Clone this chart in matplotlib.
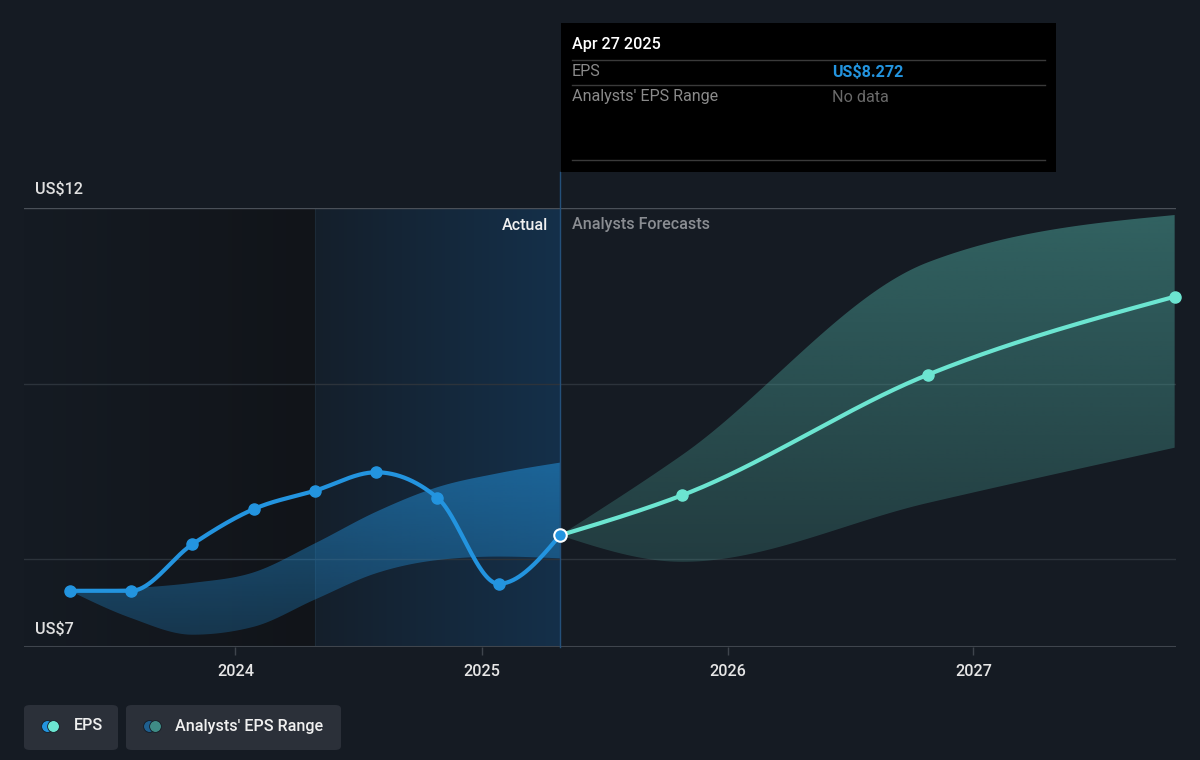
import numpy as np
import matplotlib
matplotlib.use("Agg")
import matplotlib.pyplot as plt
import matplotlib.dates as mdates
from matplotlib.patches import Rectangle, FancyBboxPatch
from matplotlib.lines import Line2D
import datetime as dt

plt.rcParams['font.family'] = ['Roboto', 'DejaVu Sans']

# ---------------- data ----------------
hist_dates = ["2023-04-30", "2023-07-30", "2023-10-29", "2024-01-28", "2024-04-28",
              "2024-07-28", "2024-10-27", "2025-01-26", "2025-04-27"]
hist_eps = [7.64, 7.64, 8.17, 8.57, 8.78, 8.99, 8.70, 7.72, 8.272]
hist_range_high = [7.64, 7.67, 7.73, 7.85, 8.18, 8.54, 8.82, 8.98, 9.10]
hist_range_low = [7.64, 7.33, 7.14, 7.23, 7.54, 7.84, 7.99, 8.03, 8.01]

fc_dates = ["2025-04-27", "2025-10-26", "2026-10-25", "2027-10-27"]
fc_eps = [8.272, 8.73, 10.10, 10.99]
fc_high = [8.272, 9.19, 11.38, 11.92]
fc_low = [8.272, 7.97, 8.64, 9.27]

year_ticks = ["2024", "2025", "2026", "2027"]
y_labels = ["US$7", "US$12"]
grid_vals = [8, 10, 12]

# ---------------- helpers ----------------
def to_num(ds):
    return np.array([mdates.date2num(dt.datetime.strptime(d, "%Y-%m-%d")) for d in ds])

def monotone(x, y, n=60):
    x = np.asarray(x, float); y = np.asarray(y, float)
    h = np.diff(x); s = np.diff(y) / h
    m = np.zeros(len(x))
    for i in range(1, len(x) - 1):
        p = (s[i - 1] * h[i] + s[i] * h[i - 1]) / (h[i - 1] + h[i])
        m[i] = (np.sign(s[i - 1]) + np.sign(s[i])) * min(abs(s[i - 1]), abs(s[i]), 0.5 * abs(p))
    if len(x) > 2:
        m[0] = (3 * s[0] - m[1]) / 2
        m[-1] = (3 * s[-1] - m[-2]) / 2
    else:
        m[0] = m[-1] = s[0]
    xs, ys = [], []
    for i in range(len(x) - 1):
        t = np.linspace(0, 1, n)
        h00 = 2 * t**3 - 3 * t**2 + 1
        h10 = t**3 - 2 * t**2 + t
        h01 = -2 * t**3 + 3 * t**2
        h11 = t**3 - t**2
        xs.append(x[i] + t * h[i])
        ys.append(h00 * y[i] + h10 * h[i] * m[i] + h01 * y[i + 1] + h11 * h[i] * m[i + 1])
    return np.concatenate(xs), np.concatenate(ys)

def gradient_band(ax, x, ylo, yhi, color, a_top, a_bot, y_top, y_bot, z=1):
    poly = ax.fill_between(x, ylo, yhi, facecolor='none', edgecolor='none', lw=0)
    path = poly.get_paths()[0]
    rgba = np.zeros((256, 1, 4))
    rgba[..., :3] = matplotlib.colors.to_rgb(color)
    rgba[..., 3] = np.linspace(a_top, a_bot, 256)[:, None]
    im = ax.imshow(rgba, extent=[x.min(), x.max(), y_bot, y_top], aspect='auto',
                   origin='upper', zorder=z, interpolation='bilinear')
    im.set_clip_path(path, transform=ax.transData)

W, H = 1200, 760
BG = '#151b23'
BLUE = '#2394df'
MINT = '#6ce5d1'
FS = 11.6

fig = plt.figure(figsize=(W / 100, H / 100), dpi=100, facecolor=BG)

def fx(px): return px / W
def fy(py): return 1 - py / H

ax = fig.add_axes([fx(24), fy(647), fx(1176) - fx(24), fy(208) - fy(647)])
ax.set_facecolor(BG)

hx = to_num(hist_dates)
fcx = to_num(fc_dates)
x_left = mdates.date2num(dt.datetime(2023, 2, 21))
x_right = mdates.date2num(dt.datetime(2027, 10, 29))

# background gradients
x_split = hx[4]
x_now = hx[-1]
g = np.linspace(0, 1, 1024)[None, :]
c0 = np.array(matplotlib.colors.to_rgb(BG)); c1 = np.array(matplotlib.colors.to_rgb('#111419'))
img = (c0[None, None, :] * (1 - g[..., None]) + c1[None, None, :] * g[..., None])
ax.imshow(img, extent=[x_left, x_split, 7, 12], aspect='auto', zorder=0.2, interpolation='bilinear')
c2 = np.array(matplotlib.colors.to_rgb('#141f2b')); c3 = np.array(matplotlib.colors.to_rgb('#15304a'))
img2 = (c2[None, None, :] * (1 - g[..., None]) + c3[None, None, :] * g[..., None])
ax.imshow(img2, extent=[x_split, x_now, 7, 12], aspect='auto', zorder=0.2, interpolation='bilinear')
ax.plot([x_split, x_split], [7, 12], color='#1c2a37', lw=0.8, zorder=0.3)

# gridlines
for v in grid_vals:
    ax.axhline(v, color='#4a5058' if v == 12 else '#2c333b', lw=1.0, zorder=0.5)
ax.axhline(7, color='#3f454d', lw=1.5, zorder=0.5)

# past range band (vertical gradient)
ux, uy = monotone(hx, hist_range_high)
lx, ly = monotone(hx, hist_range_low)
gradient_band(ax, ux, ly, uy, BLUE, 0.55, 0.25, 9.2, 7.1)

# forecast range band (vertical gradient)
ux2, uy2 = monotone(fcx, fc_high)
lx2, ly2 = monotone(fcx, fc_low)
gradient_band(ax, ux2, ly2, uy2, '#4a9e96', 0.55, 0.25, 12.0, 7.9)

# vertical "now" line
ax.plot([x_now, x_now], [7, 12.41], color='#24507a', lw=1.0, zorder=1.5, clip_on=False)

# EPS lines
ex, ey = monotone(hx, hist_eps)
ax.plot(ex, ey, color=BLUE, lw=3, zorder=3, solid_capstyle='round')
ax.plot(hx[:-1], hist_eps[:-1], 'o', color=BLUE, ms=8, zorder=4)
fx_, fy_ = monotone(fcx, fc_eps)
ax.plot(fx_, fy_, color=MINT, lw=3, zorder=3, solid_capstyle='round', clip_on=False)
ax.plot(fcx[1:], fc_eps[1:], 'o', color=MINT, ms=8, zorder=4, clip_on=False)
ax.plot([hx[-1]], [hist_eps[-1]], 'o', color=BLUE, mec='white', mew=1.5, ms=9, zorder=5)

ax.set_xlim(x_left, x_right)
ax.set_ylim(7, 12)
for sp in ax.spines.values():
    sp.set_visible(False)
ax.set_yticks([])
tick_pos = [mdates.date2num(dt.datetime(int(y), 1, 1)) for y in year_ticks]
ax.set_xticks(tick_pos)
ax.set_xticklabels(year_ticks, fontsize=FS, fontweight='medium')
ax.tick_params(axis='x', colors='#3f454d', length=6, width=1, pad=6, labelcolor='#e6e6e6')

# y labels
fig.text(fx(35), fy(190), y_labels[1], color='#e0e0e0', fontsize=FS, fontweight='medium', va='center', ha='left')
fig.text(fx(35), fy(629), y_labels[0], color='#e0e0e0', fontsize=FS, fontweight='medium', va='center', ha='left')

# section labels
fig.text(fx(548), fy(225), "Actual", color='#f0f0f0', fontsize=FS, fontweight='medium', va='center', ha='right')
fig.text(fx(572), fy(225), "Analysts Forecasts", color='#8a8d92', fontsize=FS, fontweight='medium', va='center', ha='left')

# tooltip
fig.patches.append(Rectangle((fx(561), fy(172)), fx(1056) - fx(561), fy(23) - fy(172),
                             transform=fig.transFigure, facecolor='black', edgecolor='none', zorder=10))
for yy in [60, 85, 160]:
    fig.lines.append(Line2D([fx(572), fx(1045)], [fy(yy), fy(yy)], transform=fig.transFigure,
                            color='#3a3a3a', lw=1, zorder=11))
fig.text(fx(572), fy(45), "Apr 27 2025", color='white', fontsize=FS, fontweight='medium', va='center', ha='left', zorder=12)
fig.text(fx(572), fy(72), "EPS", color='#8a8a8a', fontsize=FS, va='center', ha='left', zorder=12)
fig.text(fx(832), fy(72), "US$8.272", color=BLUE, fontsize=FS, fontweight='bold', va='center', ha='left', zorder=12)
fig.text(fx(572), fy(97), "Analysts' EPS Range", color='#8a8a8a', fontsize=FS, va='center', ha='left', zorder=12)
fig.text(fx(832), fy(97), "No data", color='#6a6a6a', fontsize=FS, va='center', ha='left', zorder=12)

# legend
def legend_box(x0, x1, label, c_a, c_b, tx, cx):
    fig.patches.append(FancyBboxPatch((fx(x0), fy(750)), fx(x1) - fx(x0), fy(705) - fy(750),
                                      boxstyle="round,pad=0,rounding_size=0.005",
                                      transform=fig.transFigure, facecolor='#2b3039', edgecolor='none'))
    for i, c in enumerate([c_a, c_b]):
        fig.lines.append(Line2D([fx(cx + i * 6)], [fy(726)], marker='o', ms=8.5, color=c, mec=BG, mew=0.6,
                                transform=fig.transFigure, linestyle='none'))
    fig.text(fx(tx), fy(726), label, color='#f0f0f0', fontsize=FS, fontweight='medium', va='center', ha='left')

legend_box(24, 118, "EPS", BLUE, MINT, 74, 47)
legend_box(126, 341, "Analysts' EPS Range", '#1f5f8f', '#3f8c86', 175, 149)

fig.savefig("out.png", dpi=100, facecolor=BG)
